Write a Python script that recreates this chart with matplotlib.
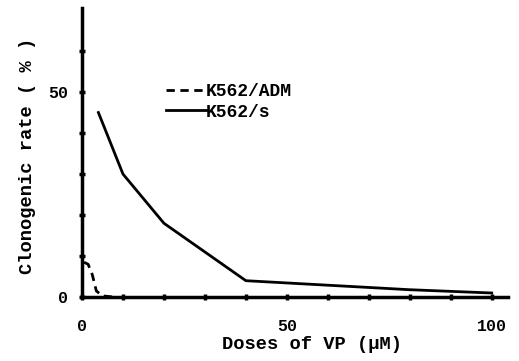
import matplotlib
matplotlib.use("Agg")
import matplotlib.pyplot as plt

# Dose (uM) and clonogenic rate (%)
adm_dose = [0.5, 1.5, 2.5, 3.5, 5, 8]
adm_rate = [8.5, 8.0, 5.5, 1.5, 0.3, 0.0]

s_dose = [4, 10, 20, 40, 80, 100]
s_rate = [45, 30, 18, 4, 1.8, 1.0]

x_labels = ["0", "50", "100"]
y_labels = ["0", "50"]

plt.rcParams['font.family'] = ['Liberation Mono', 'DejaVu Sans Mono']
plt.rcParams['font.weight'] = 'bold'

fig = plt.figure(figsize=(5.19, 3.61), dpi=100)
ax = fig.add_axes([0.158, 0.177, 0.821, 0.801])

ax.plot(adm_dose, adm_rate, color='black', lw=2, ls=(0, (3, 2)), label='K562/ADM')
ax.plot(s_dose, s_rate, color='black', lw=2, label='K562/s')

ax.set_xlim(0, 104)
ax.set_ylim(0, 70.5)

for side in ['top', 'right']:
    ax.spines[side].set_visible(False)
for side in ['left', 'bottom']:
    ax.spines[side].set_linewidth(2.5)

ax.set_xticks([0, 50, 100])
ax.set_xticklabels(x_labels)
ax.set_xticks(range(10, 101, 10), minor=True)
ax.set_yticks([0, 50])
ax.set_yticklabels(y_labels)
ax.set_yticks(range(10, 61, 10), minor=True)
ax.tick_params(which='both', direction='inout', length=4, width=2.5, labelsize=12)
ax.tick_params(axis='x', pad=14)
ax.tick_params(axis='y', pad=8)

ax.set_xlabel('Doses of VP (μM)', fontsize=13.5, fontweight='bold')
ax.xaxis.set_label_coords(0.54, -0.135)
ax.set_ylabel('Clonogenic rate ( % )', fontsize=13.5, fontweight='bold')
ax.yaxis.set_label_coords(-0.108, 0.49)

ax.legend(loc='upper left', bbox_to_anchor=(0.18, 0.765), frameon=False,
          fontsize=13, handlelength=2.2, handletextpad=0.0,
          labelspacing=0.2, borderaxespad=0)

fig.savefig('out.png', dpi=100)
